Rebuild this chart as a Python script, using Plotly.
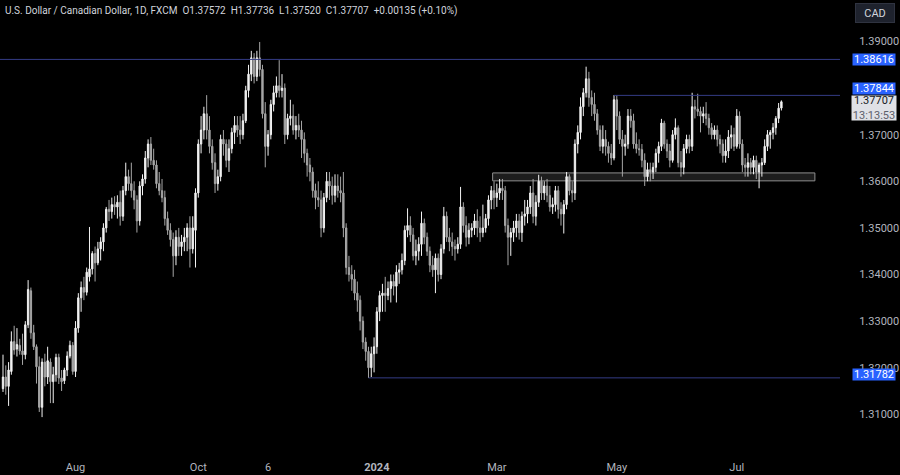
import pandas as pd
import plotly.graph_objects as go

# ---------------- data ----------------
dates = pd.bdate_range("2023-06-26", "2024-07-23")
dates = dates.drop([pd.Timestamp("2023-12-25"), pd.Timestamp("2024-01-01")])

opens = [
    1.3155,1.3180,1.3160,1.3192,1.3256,1.3240,1.3248,1.3236,1.3228,1.3292,
    1.3365,1.3275,1.3245,1.3202,1.3115,1.3212,1.3180,1.3212,1.3170,1.3185,
    1.3222,1.3178,1.3172,1.3195,1.3225,1.3248,1.3192,1.3285,1.3350,1.3372,
    1.3362,1.3395,1.3412,1.3445,1.3425,1.3455,1.3470,1.3500,1.3540,1.3535,
    1.3550,1.3545,1.3555,1.3525,1.3580,1.3610,1.3595,1.3580,1.3560,1.3515,
    1.3590,1.3605,1.3650,1.3680,1.3645,1.3635,1.3595,1.3580,1.3565,1.3520,
    1.3495,1.3475,1.3440,1.3480,1.3460,1.3470,1.3480,1.3500,1.3455,1.3495,
    1.3575,1.3680,1.3710,1.3745,1.3710,1.3675,1.3640,1.3595,1.3610,1.3690,
    1.3680,1.3645,1.3670,1.3705,1.3720,1.3710,1.3700,1.3730,1.3795,1.3830,
    1.3865,1.3825,1.3865,1.3840,1.3745,1.3675,1.3700,1.3765,1.3790,1.3805,
    1.3795,1.3800,1.3700,1.3735,1.3740,1.3710,1.3720,1.3710,1.3690,1.3660,
    1.3635,1.3620,1.3580,1.3565,1.3560,1.3500,1.3565,1.3600,1.3590,1.3570,
    1.3590,1.3580,1.3575,1.3500,1.3415,1.3400,1.3390,1.3360,1.3345,1.3300,
    1.3255,1.3235,1.3200,1.3230,1.3245,1.3320,1.3355,1.3360,1.3355,1.3370,
    1.3385,1.3375,1.3405,1.3410,1.3430,1.3495,1.3505,1.3485,1.3440,1.3450,
    1.3465,1.3510,1.3480,1.3450,1.3420,1.3410,1.3435,1.3400,1.3455,1.3525,
    1.3480,1.3470,1.3460,1.3455,1.3465,1.3545,1.3505,1.3480,1.3495,1.3500,
    1.3515,1.3500,1.3490,1.3500,1.3520,1.3560,1.3580,1.3565,1.3575,1.3585,
    1.3580,1.3505,1.3480,1.3490,1.3500,1.3515,1.3490,1.3525,1.3530,1.3545,
    1.3575,1.3525,1.3555,1.3600,1.3575,1.3590,1.3570,1.3545,1.3550,1.3580,
    1.3540,1.3530,1.3550,1.3610,1.3580,1.3575,1.3680,1.3705,1.3760,1.3790,
    1.3820,1.3780,1.3765,1.3745,1.3710,1.3675,1.3690,1.3675,1.3660,1.3650,
    1.3775,1.3740,1.3690,1.3675,1.3680,1.3740,1.3730,1.3680,1.3670,1.3668,
    1.3645,1.3610,1.3625,1.3620,1.3630,1.3660,1.3675,1.3725,1.3680,1.3665,
    1.3645,1.3700,1.3715,1.3640,1.3630,1.3670,1.3690,1.3675,1.3760,1.3755,
    1.3750,1.3740,1.3745,1.3735,1.3715,1.3700,1.3710,1.3690,1.3680,1.3655,
    1.3665,1.3695,1.3700,1.3675,1.3740,1.3680,1.3635,1.3630,1.3640,1.3630,
    1.3645,1.3620,1.3635,1.3640,1.3675,1.3700,1.3705,1.3715,1.3735,1.37572,
]
highs = [
    1.3228,1.3205,1.3212,1.3278,1.3290,1.3285,1.3262,1.3273,1.3300,1.3388,
    1.3372,1.3292,1.3250,1.3224,1.3220,1.3230,1.3245,1.3220,1.3202,1.3230,
    1.3230,1.3195,1.3200,1.3235,1.3258,1.3255,1.3300,1.3360,1.3385,1.3395,
    1.3415,1.3502,1.3450,1.3460,1.3470,1.3480,1.3510,1.3545,1.3560,1.3565,
    1.3568,1.3570,1.3580,1.3590,1.3640,1.3625,1.3640,1.3600,1.3570,1.3600,
    1.3615,1.3665,1.3690,1.3695,1.3670,1.3645,1.3620,1.3605,1.3580,1.3535,
    1.3510,1.3490,1.3495,1.3500,1.3485,1.3500,1.3510,1.3525,1.3525,1.3585,
    1.3690,1.3740,1.3760,1.3785,1.3740,1.3690,1.3660,1.3625,1.3700,1.3710,
    1.3690,1.3690,1.3715,1.3740,1.3740,1.3740,1.3745,1.3805,1.3850,1.3880,
    1.3875,1.3880,1.3899,1.3850,1.3770,1.3710,1.3775,1.3805,1.3825,1.3860,
    1.3830,1.3810,1.3745,1.3775,1.3765,1.3740,1.3745,1.3730,1.3705,1.3670,
    1.3650,1.3630,1.3595,1.3600,1.3580,1.3575,1.3620,1.3620,1.3610,1.3615,
    1.3615,1.3610,1.3620,1.3510,1.3440,1.3420,1.3410,1.3385,1.3355,1.3310,
    1.3265,1.3245,1.3245,1.3265,1.3330,1.3365,1.3380,1.3395,1.3385,1.3400,
    1.3400,1.3420,1.3425,1.3445,1.3505,1.3542,1.3525,1.3500,1.3475,1.3480,
    1.3535,1.3520,1.3490,1.3460,1.3440,1.3445,1.3445,1.3465,1.3545,1.3535,
    1.3500,1.3490,1.3475,1.3480,1.3588,1.3555,1.3525,1.3510,1.3510,1.3530,
    1.3540,1.3525,1.3550,1.3530,1.3570,1.3590,1.3600,1.3595,1.3605,1.3605,
    1.3590,1.3520,1.3500,1.3515,1.3530,1.3530,1.3535,1.3560,1.3560,1.3590,
    1.3605,1.3570,1.3614,1.3610,1.3600,1.3605,1.3590,1.3565,1.3590,1.3590,
    1.3555,1.3560,1.3620,1.3615,1.3600,1.3690,1.3720,1.3780,1.3800,1.3846,
    1.3835,1.3795,1.3790,1.3755,1.3720,1.3720,1.3710,1.3685,1.3680,1.3785,
    1.3785,1.3750,1.3710,1.3700,1.3755,1.3755,1.3745,1.3705,1.3690,1.3680,
    1.3660,1.3640,1.3640,1.3640,1.3670,1.3685,1.3734,1.3730,1.3690,1.3680,
    1.3710,1.3735,1.3720,1.3665,1.3680,1.3700,1.3700,1.3790,1.3775,1.3788,
    1.3760,1.3760,1.3770,1.3745,1.3725,1.3720,1.3720,1.3700,1.3690,1.3690,
    1.3710,1.3720,1.3715,1.3755,1.3750,1.3690,1.3650,1.3660,1.3650,1.3655,
    1.3655,1.3640,1.3650,1.3690,1.3710,1.3710,1.3725,1.3740,1.3768,1.37736,
]
lows = [
    1.3148,1.3142,1.3118,1.3185,1.3228,1.3224,1.3228,1.3206,1.3218,1.3285,
    1.3262,1.3238,1.3166,1.3105,1.3094,1.3160,1.3165,1.3124,1.3124,1.3170,
    1.3165,1.3150,1.3165,1.3182,1.3220,1.3185,1.3180,1.3275,1.3320,1.3345,
    1.3355,1.3385,1.3400,1.3385,1.3420,1.3430,1.3450,1.3490,1.3515,1.3520,
    1.3528,1.3520,1.3505,1.3515,1.3570,1.3580,1.3565,1.3540,1.3490,1.3505,
    1.3570,1.3595,1.3630,1.3635,1.3625,1.3585,1.3570,1.3555,1.3505,1.3485,
    1.3460,1.3395,1.3420,1.3440,1.3440,1.3450,1.3450,1.3415,1.3445,1.3415,
    1.3565,1.3660,1.3690,1.3690,1.3660,1.3625,1.3575,1.3580,1.3600,1.3655,
    1.3630,1.3620,1.3660,1.3680,1.3695,1.3680,1.3690,1.3725,1.3780,1.3815,
    1.3810,1.3815,1.3825,1.3735,1.3630,1.3655,1.3690,1.3750,1.3780,1.3780,
    1.3780,1.3680,1.3690,1.3720,1.3700,1.3690,1.3695,1.3650,1.3640,1.3610,
    1.3600,1.3565,1.3540,1.3545,1.3480,1.3490,1.3555,1.3560,1.3550,1.3555,
    1.3565,1.3555,1.3480,1.3400,1.3385,1.3365,1.3345,1.3320,1.3280,1.3240,
    1.3215,1.3178,1.3180,1.3190,1.3230,1.3300,1.3320,1.3320,1.3345,1.3340,
    1.3355,1.3340,1.3380,1.3400,1.3420,1.3480,1.3470,1.3430,1.3420,1.3430,
    1.3440,1.3465,1.3440,1.3405,1.3395,1.3360,1.3385,1.3390,1.3445,1.3470,
    1.3450,1.3440,1.3430,1.3445,1.3455,1.3490,1.3460,1.3465,1.3480,1.3485,
    1.3480,1.3470,1.3480,1.3490,1.3505,1.3540,1.3540,1.3545,1.3560,1.3560,
    1.3490,1.3420,1.3440,1.3470,1.3480,1.3475,1.3470,1.3505,1.3510,1.3530,
    1.3510,1.3505,1.3545,1.3560,1.3560,1.3555,1.3535,1.3530,1.3535,1.3520,
    1.3505,1.3488,1.3540,1.3570,1.3555,1.3560,1.3660,1.3690,1.3740,1.3780,
    1.3760,1.3740,1.3730,1.3700,1.3665,1.3660,1.3655,1.3640,1.3635,1.3645,
    1.3710,1.3680,1.3610,1.3655,1.3670,1.3715,1.3670,1.3660,1.3655,1.3630,
    1.3590,1.3600,1.3600,1.3605,1.3620,1.3640,1.3665,1.3670,1.3650,1.3630,
    1.3640,1.3690,1.3630,1.3610,1.3615,1.3660,1.3660,1.3665,1.3735,1.3740,
    1.3705,1.3725,1.3720,1.3700,1.3690,1.3690,1.3675,1.3660,1.3640,1.3640,
    1.3650,1.3670,1.3665,1.3670,1.3670,1.3620,1.3610,1.3610,1.3615,1.3615,
    1.3605,1.3585,1.3610,1.3635,1.3665,1.3670,1.3690,1.3700,1.3725,1.37520,
]
closes = [
    1.3180,1.3160,1.3195,1.3256,1.3238,1.3250,1.3236,1.3228,1.3292,1.3368,
    1.3275,1.3245,1.3202,1.3115,1.3212,1.3180,1.3215,1.3170,1.3185,1.3222,
    1.3178,1.3170,1.3195,1.3225,1.3248,1.3192,1.3285,1.3350,1.3372,1.3362,
    1.3405,1.3412,1.3445,1.3425,1.3455,1.3470,1.3500,1.3540,1.3535,1.3550,
    1.3545,1.3555,1.3525,1.3580,1.3610,1.3595,1.3580,1.3560,1.3515,1.3590,
    1.3605,1.3650,1.3680,1.3645,1.3635,1.3595,1.3580,1.3565,1.3520,1.3495,
    1.3475,1.3440,1.3480,1.3460,1.3470,1.3480,1.3500,1.3455,1.3500,1.3575,
    1.3680,1.3710,1.3745,1.3710,1.3675,1.3640,1.3595,1.3610,1.3690,1.3680,
    1.3645,1.3670,1.3705,1.3720,1.3710,1.3700,1.3730,1.3795,1.3830,1.3865,
    1.3825,1.3865,1.3840,1.3745,1.3675,1.3700,1.3765,1.3790,1.3805,1.3795,
    1.3800,1.3700,1.3735,1.3740,1.3710,1.3720,1.3710,1.3690,1.3660,1.3635,
    1.3620,1.3580,1.3565,1.3560,1.3500,1.3565,1.3600,1.3590,1.3570,1.3590,
    1.3580,1.3575,1.3500,1.3415,1.3400,1.3390,1.3360,1.3345,1.3300,1.3255,
    1.3235,1.3200,1.3230,1.3245,1.3320,1.3355,1.3360,1.3355,1.3370,1.3385,
    1.3375,1.3405,1.3410,1.3430,1.3495,1.3505,1.3485,1.3440,1.3450,1.3465,
    1.3510,1.3480,1.3450,1.3420,1.3410,1.3435,1.3400,1.3455,1.3525,1.3480,
    1.3470,1.3460,1.3455,1.3465,1.3545,1.3505,1.3480,1.3495,1.3500,1.3515,
    1.3500,1.3490,1.3500,1.3520,1.3560,1.3580,1.3565,1.3575,1.3585,1.3580,
    1.3505,1.3480,1.3490,1.3500,1.3515,1.3490,1.3525,1.3530,1.3545,1.3575,
    1.3525,1.3555,1.3600,1.3575,1.3590,1.3570,1.3545,1.3550,1.3580,1.3540,
    1.3530,1.3550,1.3610,1.3580,1.3575,1.3680,1.3705,1.3760,1.3790,1.3820,
    1.3780,1.3765,1.3745,1.3710,1.3675,1.3690,1.3675,1.3660,1.3650,1.3775,
    1.3740,1.3690,1.3675,1.3680,1.3740,1.3730,1.3680,1.3670,1.3668,1.3645,
    1.3610,1.3625,1.3620,1.3630,1.3660,1.3675,1.3725,1.3680,1.3665,1.3645,
    1.3700,1.3715,1.3640,1.3630,1.3670,1.3690,1.3675,1.3760,1.3755,1.3750,
    1.3740,1.3745,1.3735,1.3715,1.3700,1.3710,1.3690,1.3680,1.3655,1.3665,
    1.3695,1.3700,1.3675,1.3740,1.3680,1.3635,1.3630,1.3640,1.3630,1.3645,
    1.3620,1.3635,1.3640,1.3675,1.3700,1.3705,1.3715,1.3735,1.3757,1.37707,
]

# price-axis ticks and x-axis labels
price_ticks = [1.31, 1.32, 1.33, 1.34, 1.35, 1.36, 1.37, 1.39]
xtick_dates = ["2023-08-01", "2023-10-02", "2023-11-06", "2024-01-02",
               "2024-03-01", "2024-05-01", "2024-07-01"]
xtick_text = ["Aug", "Oct", "6", "<b>2024</b>", "Mar", "May", "Jul"]

# drawn levels
level_top = 1.38616
level_res = 1.37844
level_low = 1.31782
zone_low, zone_high = 1.3601, 1.3618
res_start_date = "2024-04-30"
low_start_date = "2023-12-27"
zone_start_date = "2024-02-28"
zone_extra_bars = 12

title_text = ("U.S. Dollar / Canadian Dollar, 1D, FXCM&nbsp;&nbsp;O1.37572&nbsp;&nbsp;H1.37736&nbsp;&nbsp;"
              "L1.37520&nbsp;&nbsp;C1.37707&nbsp;&nbsp;+0.00135 (+0.10%)")
last_price = closes[-1]
countdown = "13:13:53"

# ---------------- figure ----------------
assert len(dates) == len(opens) == len(highs) == len(lows) == len(closes)
xs = list(range(len(dates)))
pos = {d.strftime("%Y-%m-%d"): i for i, d in enumerate(dates)}

x_min, x_max = -1.075, 300.0
y_min, y_max = 1.30191, 1.39891

fig = go.Figure()
fig.add_trace(go.Candlestick(
    x=xs, open=opens, high=highs, low=lows, close=closes,
    increasing=dict(line=dict(color="#f2f2f2", width=1), fillcolor="#f2f2f2"),
    decreasing=dict(line=dict(color="#a6a6a6", width=1), fillcolor="#a6a6a6"),
    hovertext=[d.strftime("%Y-%m-%d") for d in dates],
    showlegend=False,
))

line_col = "#343c85"
shapes = [
    dict(type="line", xref="paper", yref="y", x0=0, x1=1, y0=level_top, y1=level_top,
         line=dict(color=line_col, width=1)),
    dict(type="line", xref="x", yref="y", x0=pos[res_start_date], x1=x_max,
         y0=level_res, y1=level_res, line=dict(color=line_col, width=1)),
    dict(type="line", xref="x", yref="y", x0=pos[low_start_date], x1=x_max,
         y0=level_low, y1=level_low, line=dict(color=line_col, width=1)),
    dict(type="rect", xref="x", yref="y", x0=pos[zone_start_date] + 0.5,
         x1=xs[-1] + zone_extra_bars, y0=zone_low, y1=zone_high,
         fillcolor="rgba(130,130,130,0.22)", line=dict(color="#8f8f8f", width=1),
         layer="below"),
]

font_fam = "Roboto, Liberation Sans, sans-serif"
annotations = [
    dict(xref="paper", yref="paper", x=0, y=1, xanchor="left", yanchor="top",
         xshift=3, yshift=-3, text=title_text, showarrow=False,
         font=dict(color="#d1d4dc", size=10, family=font_fam)),
    dict(xref="paper", yref="paper", x=1, y=1, xanchor="left", yanchor="top",
         xshift=15, yshift=-3, text="CAD", showarrow=False, width=34, height=14,
         bgcolor="#1e222d", bordercolor="#2f3340", borderwidth=1, borderpad=2,
         font=dict(color="#d1d4dc", size=11, family=font_fam)),
]
for lvl, ysh in [(level_top, 0), (level_res, 7), (level_low, 3)]:
    annotations.append(dict(
        xref="paper", yref="y", x=1, y=lvl, xanchor="left", yanchor="middle",
        xshift=12, yshift=ysh, text=f"{lvl:.5f}", showarrow=False, width=42, height=11,
        bgcolor="#2962ff", borderpad=0, font=dict(color="#ffffff", size=11, family=font_fam)))
annotations.append(dict(
    xref="paper", yref="y", x=1, y=last_price, xanchor="left", yanchor="middle",
    xshift=11, yshift=-6,
    text=f"{last_price:.5f}<br><span style='color:#5d606b'>{countdown}</span>",
    showarrow=False, width=44, height=24, align="center",
    bgcolor="#dfe1e6", borderpad=0, font=dict(color="#131722", size=11, family=font_fam)))

fig.update_layout(
    width=900, height=475,
    margin=dict(l=0, r=60, t=0, b=23),
    paper_bgcolor="#000000", plot_bgcolor="#000000",
    shapes=shapes, annotations=annotations,
    showlegend=False,
    xaxis=dict(range=[x_min, x_max], type="linear", showgrid=False, zeroline=False,
               rangeslider=dict(visible=False),
               tickvals=[pos[d] for d in xtick_dates], ticktext=xtick_text,
               ticks="outside", ticklen=5, tickcolor="#000000",
               tickfont=dict(color="#b2b5be", size=11, family=font_fam), showline=False),
    yaxis=dict(range=[y_min, y_max], side="right", showgrid=False, zeroline=False,
               tickvals=price_ticks, ticktext=[f"{v:.5f}" for v in price_ticks],
               ticks="outside", ticklen=16, tickcolor="#000000",
               tickfont=dict(color="#b2b5be", size=11, family=font_fam), showline=False),
)

fig.write_html(
    "out.html",
    config={"displayModeBar": False},
    post_script="document.body.style.margin='0';document.body.style.overflow='hidden';"
                "document.body.style.background='#000';",
)
